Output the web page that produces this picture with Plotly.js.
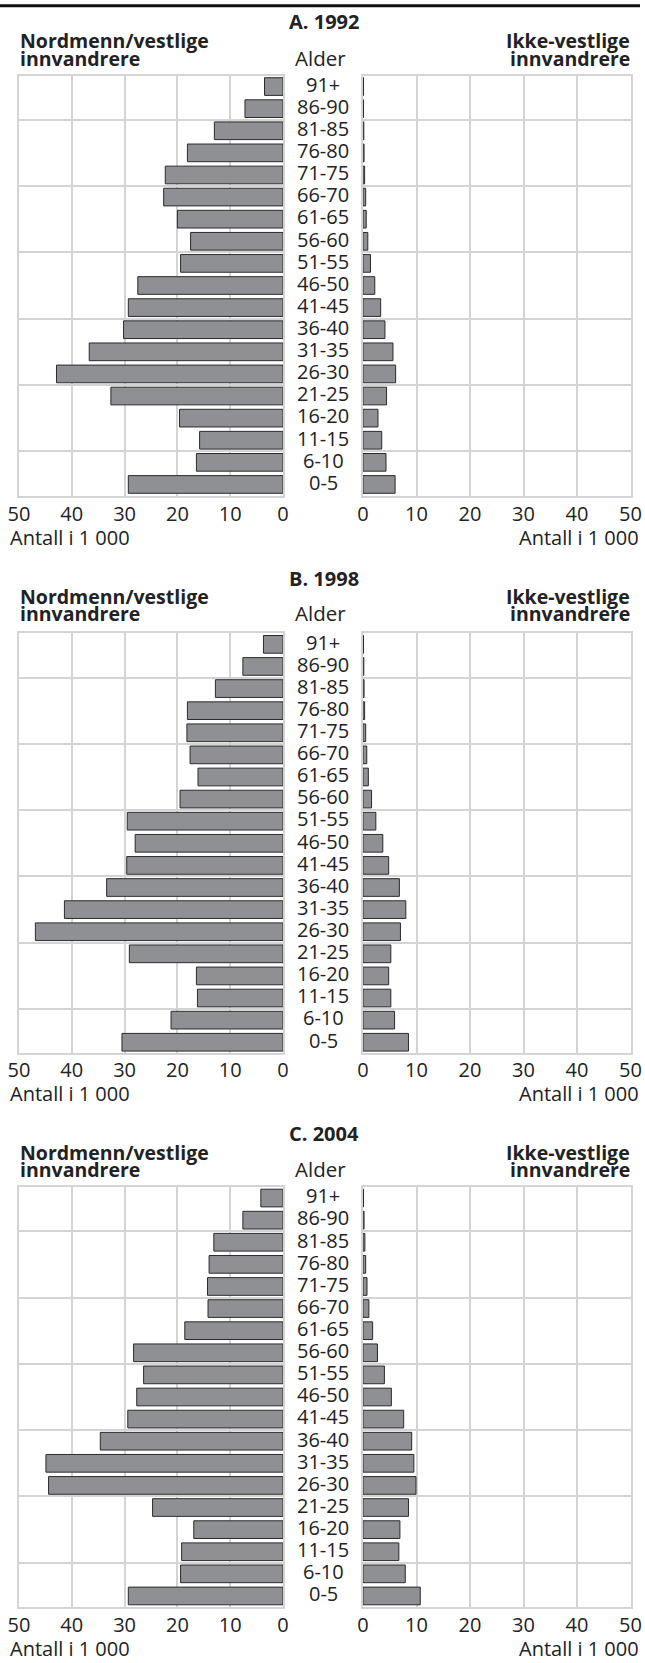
<!DOCTYPE html>
<html>
<head>
<meta charset="utf-8">
<script src="https://cdn.plot.ly/plotly-3.0.1.min.js"></script>
<style>html,body{margin:0;padding:0;background:#fff;}#chart{width:645px;height:1663px;}</style>
</head>
<body>
<div id="chart"></div>
<script>
// Age groups, youngest to oldest (bottom to top)
const ages = ['0-5','6-10','11-15','16-20','21-25','26-30','31-35','36-40','41-45','46-50','51-55','56-60','61-65','66-70','71-75','76-80','81-85','86-90','91+'];

// Thousands of persons, Nordmenn/vestlige innvandrere
const norA = [29.3,16.4,15.8,19.6,32.6,42.9,36.7,30.2,29.3,27.5,19.4,17.5,20.0,22.6,22.3,18.1,13.0,7.2,3.5];
const norB = [30.5,21.2,16.2,16.4,29.1,46.9,41.4,33.4,29.6,28.0,29.5,19.5,16.1,17.6,18.2,18.1,12.8,7.6,3.7];
const norC = [29.3,19.4,19.2,16.9,24.7,44.4,44.9,34.6,29.4,27.7,26.4,28.3,18.6,14.2,14.3,14.0,13.1,7.6,4.2];

// Thousands of persons, Ikke-vestlige innvandrere
const ikkeA = [6.0,4.3,3.5,2.8,4.4,6.1,5.6,4.1,3.3,2.2,1.4,0.9,0.6,0.5,0.3,0.2,0.15,0.1,0.1];
const ikkeB = [8.5,5.9,5.2,4.8,5.2,7.0,8.0,6.8,4.8,3.7,2.4,1.6,1.0,0.7,0.5,0.3,0.2,0.15,0.1];
const ikkeC = [10.7,7.9,6.7,6.9,8.5,9.9,9.5,9.1,7.6,5.3,4.0,2.7,1.8,1.1,0.75,0.5,0.35,0.2,0.1];

const panelTitles = ['A. 1992','B. 1998','C. 2004'];
const leftHeading = ['Nordmenn/vestlige','innvandrere'];
const rightHeading = ['Ikke-vestlige','innvandrere'];
const ageTitle = 'Alder';
const unitLabel = 'Antall i 1 000';
const xTicks = [0,10,20,30,40,50];

const W = 645, H = 1663;
const FONT = '"Open Sans", "Noto Sans", sans-serif';
const TXT = '#222';
const GRID = '#d4d4d4';

const panels = [
  {nor: norA, ikke: ikkeA, top: 75.5, bottom: 495.5, titleB: 29.3, h1: 48.3, h2: 65.7, alder: 65.7, tickSO: -1, antall: 545},
  {nor: norB, ikke: ikkeB, top: 633.3, bottom: 1053.3, titleB: 586.7, h1: 603.8, h2: 621.0, alder: 621.3, tickSO: -2, antall: 1101.7},
  {nor: norC, ikke: ikkeC, top: 1187, bottom: 1607, titleB: 1141.7, h1: 1160, h2: 1177.5, alder: 1177, tickSO: -1, antall: 1656.5}
];

const LX0 = 19, LX1 = 283, RX0 = 363, RX1 = 630.5, MIDX = 323;

const py = px => 1 - px / H;
const px2x = px => px / W;

function ann(text, x, base, size, bold, xanchor) {
  return {
    text: bold ? '<b>' + text + '</b>' : text,
    xref: 'paper', yref: 'paper',
    x: px2x(x), y: py(base - 0.388 * size),
    xanchor: xanchor, yanchor: 'middle',
    showarrow: false,
    font: {family: FONT, size: size, color: TXT}
  };
}

const data = [];
const layout = {
  width: W, height: H,
  margin: {l: 0, r: 0, t: 0, b: 0},
  paper_bgcolor: '#fff', plot_bgcolor: '#fff',
  showlegend: false,
  bargap: 0.2,
  font: {family: FONT, size: 20, color: TXT},
  annotations: [],
  shapes: [{type: 'line', xref: 'paper', yref: 'paper', x0: 0, x1: 640 / W, y0: py(5.7), y1: py(5.7), line: {color: '#111', width: 3}}]
};

const idx = ages.map((a, i) => i);
const gridVals = [1.5, 4.5, 7.5, 10.5, 13.5, 16.5];

panels.forEach((p, k) => {
  const nL = 2 * k + 1, nR = 2 * k + 2;
  const xL = 'x' + (nL === 1 ? '' : nL), yL = 'y' + (nL === 1 ? '' : nL);
  const xR = 'x' + nR, yR = 'y' + nR;
  const bar = {color: '#8f9093', line: {color: '#2b2b2b', width: 1}};
  data.push({type: 'bar', orientation: 'h', x: p.nor, y: idx, xaxis: xL, yaxis: yL, marker: bar, hoverinfo: 'skip'});
  data.push({type: 'bar', orientation: 'h', x: p.ikke, y: idx, xaxis: xR, yaxis: yR, marker: bar, hoverinfo: 'skip'});

  const yDom = [py(p.bottom), py(p.top)];
  const xCommon = {
    tickvals: xTicks, ticktext: xTicks.map(String), ticks: '',
    showgrid: true, gridcolor: GRID, gridwidth: 2,
    showline: true, linecolor: GRID, linewidth: 2, mirror: true,
    zeroline: false, fixedrange: true,
    tickfont: {family: FONT, size: 20, color: TXT},
    ticklabelstandoff: p.tickSO
  };
  const yCommon = {
    range: [-0.5, 18.5], domain: yDom,
    tickvals: gridVals, showticklabels: false, ticks: '',
    showgrid: true, gridcolor: GRID, gridwidth: 2,
    showline: true, linecolor: GRID, linewidth: 2, mirror: true,
    zeroline: false, fixedrange: true
  };
  layout['xaxis' + (nL === 1 ? '' : nL)] = Object.assign({}, xCommon, {range: [50, 0], domain: [px2x(LX0), px2x(LX1)], anchor: yL});
  layout['xaxis' + nR] = Object.assign({}, xCommon, {range: [0, 50], domain: [px2x(RX0), px2x(RX1)], anchor: yR});
  layout['yaxis' + (nL === 1 ? '' : nL)] = Object.assign({}, yCommon, {anchor: xL});
  layout['yaxis' + nR] = Object.assign({}, yCommon, {anchor: xR});

  const A = layout.annotations;
  A.push(ann(panelTitles[k], MIDX + 0.5, p.titleB, 20, true, 'center'));
  A.push(ann(leftHeading[0], LX0 - 1, p.h1, 19.5, true, 'left'));
  A.push(ann(leftHeading[1], LX0 - 1, p.h2, 19.5, true, 'left'));
  A.push(ann(rightHeading[0], 632, p.h1, 19.5, true, 'right'));
  A.push(ann(rightHeading[1], 632, p.h2, 19.5, true, 'right'));
  A.push(ann(ageTitle, 320.5, p.alder, 20.5, false, 'center'));
  A.push(ann(unitLabel, 7.5, p.antall, 20, false, 'left'));
  A.push(ann(unitLabel, 641, p.antall, 20, false, 'right'));
  ages.forEach((a, i) => {
    A.push({
      text: a, xref: 'paper', yref: yR, x: px2x(MIDX), y: i,
      xanchor: 'center', yanchor: 'middle', yshift: 2.2,
      height: 19, borderpad: 0,
      showarrow: false, font: {family: FONT, size: 20, color: TXT}
    });
  });
});

Plotly.newPlot('chart', data, layout, {staticPlot: true, displayModeBar: false});
</script>
</body>
</html>
